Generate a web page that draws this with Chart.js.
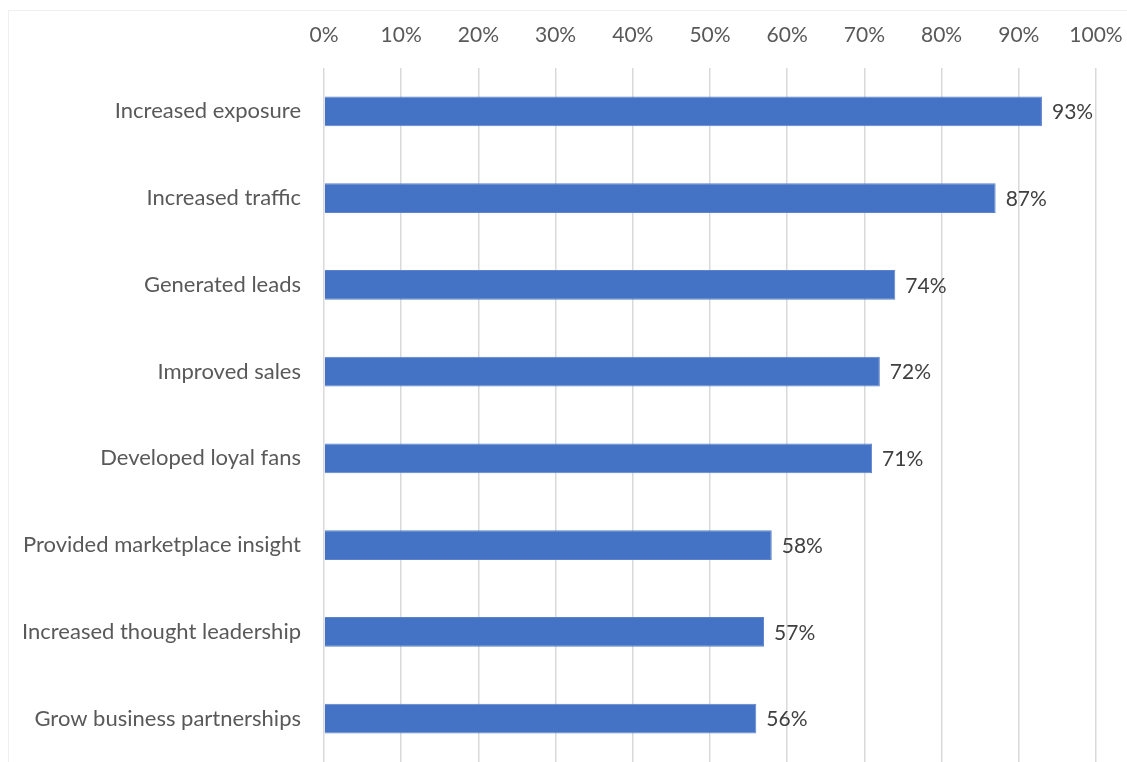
<!DOCTYPE html>
<html>
<head>
<meta charset="utf-8">
<script src="https://cdn.jsdelivr.net/npm/chart.js@4/dist/chart.umd.min.js"></script>
<style>
  html, body { margin: 0; padding: 0; background: #fff; overflow: hidden; }
  #frame { position: absolute; left: 8px; top: 10px; width: 1119px; height: 752px;
           border-left: 1px solid #f0f0f0; border-top: 1px solid #f0f0f0; }
  #wrap { position: absolute; left: 0; top: 0; width: 1127px; height: 762px; }
</style>
</head>
<body>
<div id="frame"></div>
<div id="wrap"><canvas id="chart"></canvas></div>
<script>
// survey answers, top to bottom
var categories = [
    'Increased exposure',
    'Increased traffic',
    'Generated leads',
    'Improved sales',
    'Developed loyal fans',
    'Provided marketplace insight',
    'Increased thought leadership',
    'Grow business partnerships'
];
var values = [93, 87, 74, 72, 71, 58, 57, 56];
var tickValues = [0, 10, 20, 30, 40, 50, 60, 70, 80, 90, 100];

var FONT = 'Lato, "Open Sans", sans-serif';

// value labels at the end of each bar
var barLabels = {
    id: 'barLabels',
    afterDatasetsDraw: function(chart) {
        var ctx = chart.ctx;
        var meta = chart.getDatasetMeta(0);
        ctx.save();
        ctx.font = '21px ' + FONT;
        ctx.fillStyle = '#404040';
        ctx.textAlign = 'left';
        ctx.textBaseline = 'middle';
        meta.data.forEach(function(bar, i) {
            ctx.fillText(values[i] + '%', bar.x + 10, bar.y + 1);
        });
        ctx.restore();
    }
};

var node = document.getElementById('chart');
var myChart = new Chart(node, {
    type: 'bar',
    data: {
        labels: categories,
        datasets: [{
            data: values,
            backgroundColor: '#4472C4',
            borderColor: '#5b83cc',
            borderWidth: 1,
            barPercentage: 0.69,
            categoryPercentage: 0.5
        }]
    },
    options: {
        indexAxis: 'y',
        responsive: true,
        maintainAspectRatio: false,
        animation: false,
        layout: { padding: { left: 0, right: 31, top: 0, bottom: -5 } },
        plugins: {
            legend: { display: false },
            tooltip: { enabled: false }
        },
        scales: {
            x: {
                position: 'top',
                min: 0,
                max: 100,
                afterBuildTicks: function(axis) {
                    axis.ticks = tickValues.map(function(v) { return { value: v }; });
                },
                afterFit: function(axis) {
                    axis.height = 68;
                    axis.paddingLeft = 0;
                    axis.paddingRight = 0;
                },
                grid: { color: '#d9d9d9', lineWidth: 1.5, drawTicks: false },
                border: { display: false },
                ticks: {
                    padding: 20,
                    color: '#595959',
                    font: { family: FONT, size: 21 },
                    callback: function(v) { return v + '%'; }
                }
            },
            y: {
                afterFit: function(axis) {
                    axis.width = 324;
                    axis.paddingTop = 0;
                    axis.paddingBottom = 0;
                },
                grid: { display: false, drawTicks: false },
                border: { display: false },
                ticks: {
                    padding: 23,
                    color: '#595959',
                    font: { family: FONT, size: 22 }
                }
            }
        }
    },
    plugins: [barLabels]
});
</script>
</body>
</html>
